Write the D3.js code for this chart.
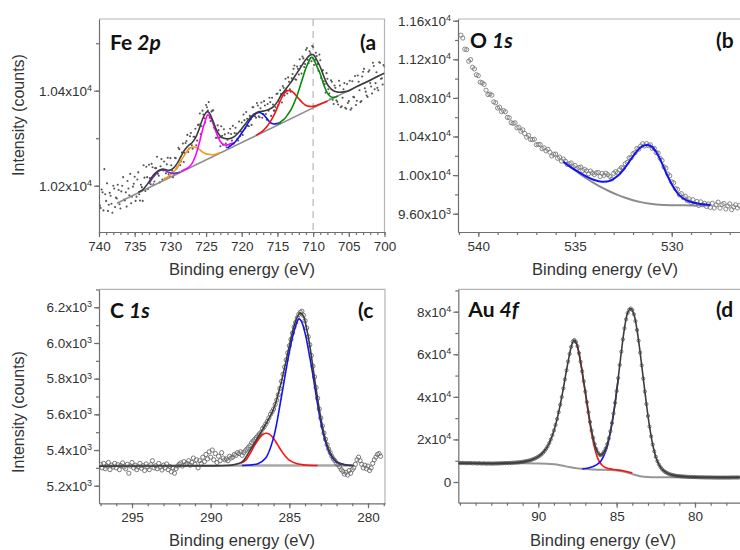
<!DOCTYPE html>
<html>
<head>
<meta charset="utf-8">
<script src="https://cdn.jsdelivr.net/npm/d3@7"></script>
<style>
  body { margin: 0; background: #fff; }
  svg text { font-family: "Liberation Sans", Arial, sans-serif; }
</style>
</head>
<body>
<div id="container"></div>
<script>
// ---- data (binding energy eV, counts) ----

// (a) Fe 2p : two interleaved scans, 0.25 eV steps
var aStart = 740, aStep = 0.25
var aCounts = [10175,10153,10186,10235,10168,10147,10185,10162,10200,10155,
  10173,10191,10152,10200,10171,10186,10210,10180,10163,10198,
  10219,10177,10228,10169,10197,10243,10189,10218,10244,10203,
  10239,10209,10237,10225,10207,10256,10232,10215,10245,10224,
  10258,10232,10222,10258,10240,10277,10251,10289,10269,10294,
  10271,10304,10285,10303,10320,10295,10329,10309,10358,10342,
  10370,10358,10343,10356,10359,10320,10301,10317,10283,10305,
  10319,10289,10297,10286,10309,10326,10311,10310,10295,10304,
  10333,10350,10321,10341,10325,10340,10365,10351,10343,10369,
  10344,10375,10351,10369,10339,10358,10376,10385,10358,10365,
  10394,10377,10393,10410,10390,10401,10428,10403,10426,10446,
  10424,10451,10434,10452,10472,10450,10486,10465,10483,10462,
  10492,10465,10473,10442,10464,10442,10420,10396,10425,10394,
  10422,10381,10411,10380,10371,10411,10367,10403,10364,10414,
  10378,10360,10420,10386,10370,10432,10401,10378,10440,10405,
  10390,10440,10416,10394,10452,10416,10406,10460,10425,10413,10451]
var aStart2 = 739.875
var aCounts2 = [10158,10192,10148,10182,10205,10160,10179,10143,10194,10175,
  10202,10161,10188,10218,10169,10156,10194,10225,10177,10204,
  10168,10213,10182,10202,10168,10217,10240,10193,10216,10246,
  10203,10237,10261,10221,10241,10213,10251,10226,10259,10220,
  10243,10218,10259,10236,10280,10243,10270,10250,10290,10307,
  10278,10311,10278,10303,10285,10328,10352,10325,10350,10333,
  10365,10376,10336,10358,10322,10301,10327,10301,10325,10286,
  10308,10281,10311,10320,10295,10289,10322,10299,10335,10314,
  10307,10338,10355,10326,10347,10328,10365,10346,10374,10346,
  10363,10343,10378,10351,10372,10385,10347,10371,10358,10393,
  10370,10401,10375,10406,10425,10394,10419,10398,10435,10453,
  10423,10446,10466,10436,10468,10456,10490,10458,10479,10494,
  10454,10480,10456,10476,10427,10443,10414,10437,10403,10382,
  10419,10372,10406,10377,10421,10365,10385,10416,10362,10374,
  10421,10363,10387,10431,10379,10419,10376,10430,10446,10398,
  10387,10443,10409,10459,10403,10439,10401,10459,10426,10454]
var aBackground = [[737.5,10163],[700,10437]]
var aPurple = [[733,10204],[732.5,10216],[732,10225],[731.5,10232],[731,10233],[730.5,10230],[730,10227],[729.5,10226],[729,10227],[728.6,10229]]
var aOrange = [[731,10212],[730,10223],[729.5,10230],[729,10240],[728.5,10253],[728,10265],[727.5,10276],[727,10281],[726.5,10281],[726,10277],[725.5,10271],[725,10267],[724.5,10266],[724,10265],[723.5,10267],[723,10270]]
var aMagenta = [[728.5,10230],[728,10234],[727.5,10238],[727,10246],[726.5,10262],[726,10287],[725.5,10317],[725,10342],[724.8,10349],[724.5,10346],[724,10330],[723.5,10309],[723,10293],[722.5,10286],[722,10286],[721.5,10289],[721,10289]]
var aBlue = [[722,10279],[721.5,10285],[721,10291],[720.5,10300],[720,10311],[719.5,10322],[719,10335],[718.5,10345],[718,10352],[717.5,10354],[717,10350],[716.5,10342],[716,10333],[715.5,10330],[715,10331],[714.5,10333]]
var aRed = [[718,10306],[717,10316],[716.5,10324],[716,10335],[715.5,10348],[715,10365],[714.5,10382],[714,10395],[713.6,10400],[713,10399],[712.5,10392],[712,10383],[711.5,10375],[711,10369],[710.5,10367],[710,10367],[709.5,10369],[709,10372],[708,10378]]
var aGreen = [[715,10329],[714.5,10335],[714,10341],[713.5,10351],[713,10363],[712.5,10380],[712,10401],[711.5,10425],[711,10448],[710.5,10465],[710.3,10470],[710,10468],[709.5,10452],[709,10435],[708.5,10412],[708,10395],[707.5,10387],[707,10386],[706.5,10389]]
var aEnvelope = [[734.5,10186],[734,10190],[733.5,10198],[733,10208],[732.5,10220],[732,10228],[731.5,10233],[731,10235],[730.5,10233],[730,10233],[729.5,10238],[729,10248],[728.5,10262],[728,10275],[727.5,10284],[727,10290],[726.5,10300],[726,10318],[725.5,10340],[725,10354],[724.8,10356],[724.5,10352],[724,10335],[723.5,10316],[723,10304],[722.5,10300],[722,10299],[721.5,10300],[721,10304],[720.5,10311],[720,10320],[719.5,10330],[719,10340],[718.5,10348],[718,10353],[717.5,10356],[717,10357],[716.5,10359],[716,10362],[715.5,10367],[715,10377],[714.5,10390],[714,10400],[713.5,10410],[713,10420],[712.5,10432],[712,10443],[711.5,10455],[711,10466],[710.5,10474],[710,10476],[709.5,10465],[709,10450],[708.5,10430],[708,10413],[707.5,10404],[707,10399],[706.5,10397],[706,10397],[705.5,10398],[705,10400],[704,10408],[703,10415],[702,10422],[701,10430],[700,10437]]
var aXTicks = [740,735,730,725,720,715,710,705,700]
var aYTicks = [10200,10400]
var aYLabels = [['1.02x10','4'],['1.04x10','4']]
var aMarker = 710

// (b) O 1s : 0.1 eV steps from 540.9 eV
var bStart = 540.9, bStep = 0.1
var bCounts = [11450,11420,11305,11300,11180,11197,11117,11100,11040,11030,
  10963,10956,10940,10880,10835,10841,10828,10759,10750,10695,
  10704,10658,10669,10656,10598,10594,10543,10536,10542,10490,
  10496,10454,10469,10431,10393,10411,10369,10368,10372,10315,
  10318,10317,10273,10283,10251,10267,10237,10198,10216,10218,
  10174,10186,10145,10166,10145,10110,10118,10126,10086,10100,
  10066,10079,10084,10045,10059,10044,10014,10042,10022,10006,
  10023,10028,9986,10017,9997,10020,10005,9986,9959,10018,
  10036,10023,10055,10078,10074,10118,10132,10179,10180,10222,
  10232,10276,10269,10302,10325,10303,10327,10306,10313,10275,
  10277,10232,10228,10174,10152,10086,10073,10011,9993,9930,
  9920,9859,9852,9796,9808,9767,9782,9737,9754,9713,
  9745,9702,9727,9685,9723,9692,9707,9675,9701,9665,
  9708,9659,9692,9720,9658,9693,9706,9649,9680,9702,
  9642,9670,9692,9660,9685]
var bFit = [[535.6,10138],[535.2,10080],[534.8,10030],[534.4,9985],[534,9950],[533.6,9932],[533.2,9940],[532.8,9990],[532.4,10080],[532,10195],[531.8,10245],[531.6,10288],[531.4,10308],[531.2,10310],[531,10290],[530.8,10240],[530.6,10165],[530.4,10075],[530.2,9985],[530,9905],[529.8,9840],[529.6,9790],[529.2,9735],[528.8,9710],[528.4,9697],[528,9689]]
var bBackground = [[535.6,10135],[535,10050],[534.4,9965],[534,9915],[533.6,9870],[533.2,9830],[532.8,9795],[532.4,9765],[532,9740],[531.6,9720],[531.2,9705],[530.8,9695],[530.4,9690],[530,9688],[529,9686],[528,9686]]
var bXTicks = [540,535,530]
var bYTicks = [9600,10000,10400,10800,11200,11600]
var bYLabels = [['9.60x10','3'],['1.00x10','4'],['1.04x10','4'],['1.08x10','4'],['1.12x10','4'],['1.16x10','4']]

// (c) C 1s : 0.1 eV steps from 297 eV
var cStart = 297, cStep = 0.1
var cCounts = [5320,5300,5325,5295,5310,5330,5290,5315,5305,5325,
  5300,5318,5290,5312,5328,5305,5295,5320,5270,5310,
  5330,5300,5315,5290,5305,5325,5298,5312,5285,5322,
  5305,5290,5318,5340,5300,5312,5295,5325,5305,5288,
  5315,5300,5322,5290,5308,5278,5300,5270,5295,5310,
  5320,5328,5310,5335,5318,5325,5340,5315,5330,5355,
  5320,5345,5300,5340,5325,5360,5335,5375,5350,5390,
  5360,5400,5345,5380,5330,5365,5340,5385,5355,5345,
  5350,5340,5365,5355,5360,5375,5370,5385,5380,5390,
  5370,5385,5395,5405,5415,5425,5440,5450,5460,5470,
  5480,5490,5500,5520,5530,5545,5560,5580,5600,5615,
  5630,5655,5680,5710,5745,5785,5825,5865,5905,5945,
  5985,6020,6055,6090,6115,6140,6160,6172,6178,6155,
  6125,6085,6035,5990,5930,5870,5810,5750,5690,5630,
  5580,5535,5495,5460,5430,5405,5385,5365,5350,5340,
  5325,5318,5305,5290,5280,5265,5275,5260,5285,5270,
  5290,5300,5320,5345,5360,5340,5320,5300,5315,5295,
  5310,5285,5300,5325,5345,5360,5375,5380,5365]
var cBaseline = [[297.1,5312],[280.9,5313]]
var cRed = [[288.1,5325],[287.75,5345],[287.5,5380],[287.25,5420],[287,5455],[286.75,5482],[286.5,5494],[286.25,5488],[286,5465],[285.75,5430],[285.5,5395],[285.25,5365],[285,5343],[284.5,5323],[284,5316],[283.5,5313],[283.2,5313]]
var cBlue = [[288,5313],[287.5,5316],[287,5323],[286.5,5355],[286,5470],[285.5,5700],[285,5950],[284.75,6050],[284.5,6120],[284.4,6135],[284.25,6125],[284,6055],[283.75,5945],[283.5,5820],[283.25,5680],[283,5555],[282.75,5460],[282.5,5395],[282.25,5355],[282,5333],[281.5,5317],[281,5313]]
var cEnvelope = [[297.1,5310],[290,5311],[289,5313],[288.5,5318],[288,5334],[287.5,5398],[287,5470],[286.5,5545],[286,5630],[285.5,5785],[285,5985],[284.75,6080],[284.5,6145],[284.3,6168],[284.1,6150],[283.9,6080],[283.7,5985],[283.5,5865],[283.25,5715],[283,5580],[282.75,5475],[282.5,5405],[282.25,5360],[282,5335],[281.5,5318],[281,5313],[280.9,5313]]
var cXTicks = [295,290,285,280]
var cYTicks = [5200,5400,5600,5800,6000,6200]
var cYLabels = [['5.2x10','3'],['5.4x10','3'],['5.6x10','3'],['5.8x10','3'],['6.0x10','3'],['6.2x10','3']]

// (d) Au 4f : 0.1 eV steps from 95 eV
var dStart = 95, dStep = 0.1
var dCounts = [8950,8850,9000,8900,8800,8950,8850,8900,8750,8850,
  8800,8700,8850,8750,8650,8800,8700,8600,8750,8650,
  8700,8600,8750,8650,8800,8700,8850,8750,8900,8800,
  8950,8850,9000,8950,9100,9050,9200,9150,9350,9300,
  9500,9600,9750,9900,10050,10250,10500,10800,11100,11500,
  11900,12400,13000,13700,14600,15600,16800,18300,20000,22000,
  24200,26800,29600,32800,36300,40000,44000,48200,52500,56600,
  60200,63500,66000,66700,65800,63800,60500,56500,52000,47300,
  42500,37500,32800,28200,24200,20800,17800,15500,13800,12800,
  12600,13200,14300,15800,17800,20500,23800,27700,32200,37200,
  42800,48800,55000,61200,67000,72200,76400,79400,81000,81500,
  80800,78800,75600,71400,66400,60800,54800,48600,42500,36600,
  31000,26000,21500,17600,14400,11800,9800,8200,7000,6000,
  5300,4700,4300,3900,3600,3400,3200,3050,2900,2800,
  2750,2650,2600,2550,2500,2450,2400,2350,2350,2300,
  2300,2250,2250,2200,2200,2200,2150,2150,2150,2100,
  2150,2100,2100,2100,2050,2100,2050,2100,2050,2100,
  2050,2100,2050,2100,2150,2100,2150,2100,2150]
var dBackground = [[95.1,8800],[91,8750],[90,8650],[89.5,8550],[89,8300],[88.5,7700],[88,7000],[87.5,6400],[87,6050],[86.5,5850],[86,5750],[85.5,5650],[85,5450],[84.5,4800],[84,3700],[83.5,2750],[83,2300],[82,2200],[77,2150]]
var dRed = [[87.7,66500],[87.55,64700],[87.4,60200],[87.2,51500],[87,41800],[86.8,31800],[86.6,22800],[86.4,15800],[86.2,11000],[86,8400],[85.8,7100],[85.6,6500],[85.4,6150],[85.2,5900],[85,5700],[84.6,5300],[84.3,4800],[84,4300]]
var dBlue = [[87.2,6250],[87,6350],[86.8,6600],[86.6,7000],[86.4,7600],[86.2,8500],[86,9900],[85.8,12600],[85.6,16700],[85.4,23300],[85.2,31800],[85,42400],[84.9,48500]]
var dEnvelope = [[95.1,8850],[94,8800],[93,8700],[92,8850],[91.5,9050],[91,9450],[90.5,10250],[90,11900],[89.5,15600],[89.25,19100],[89,24200],[88.75,31200],[88.5,40000],[88.25,50400],[88,60200],[87.85,64800],[87.7,66700],[87.55,64900],[87.4,60500],[87.2,52000],[87,42500],[86.8,32800],[86.6,24200],[86.4,17800],[86.2,13800],[86.05,12600],[85.9,13200],[85.7,15800],[85.5,20500],[85.3,27700],[85.1,37200],[84.9,48800],[84.7,61200],[84.5,72200],[84.3,79400],[84.1,81500],[83.9,78800],[83.7,71400],[83.5,60800],[83.3,48600],[83.1,36600],[82.9,26000],[82.7,17600],[82.5,11800],[82.3,8200],[82.1,6000],[81.8,4300],[81.5,3400],[81,2750],[80.5,2450],[80,2300],[79,2200],[77,2200]]
var dXTicks = [90,85,80]
var dYTicks = [0,20000,40000,60000,80000]
var dYLabels = [['0',''],['2x10','4'],['4x10','4'],['6x10','4'],['8x10','4']]

// ---- layout ----
var WIDTH = 740
var HEIGHT = 550
var AXIS = '#6f6f6f'
var FRAME = '#b4b4b4'

var svg = d3.select('div#container').append('svg')
  .attr('width', WIDTH)
  .attr('height', HEIGHT)

// linear scale from two known tick positions, stretched over the frame
function scaleFrom(d0, p0, d1, p1, lo, hi) {
  var s = d3.scaleLinear().domain([d0, d1]).range([p0, p1])
  return d3.scaleLinear().domain([s.invert(lo), s.invert(hi)]).range([lo, hi])
}

function steps(start, step, values) {
  return values.map(function (v, i) { return [+(start - i * step).toFixed(3), v] })
}

function minors(scale, step) {
  var ext = d3.extent(scale.domain())
  return d3.range(Math.ceil(ext[0] / step - 1e-9) * step, ext[1] + 1e-9, step)
}

function panel(p) {
  var g = svg.append('g')
  var clipId = 'clip-' + p.id
  svg.append('clipPath').attr('id', clipId)
    .append('rect')
    .attr('x', p.left).attr('y', p.top)
    .attr('width', p.right - p.left).attr('height', p.bottom - p.top)

  // top / right frame
  g.append('path')
    .attr('d', 'M' + p.left + ',' + p.top + 'H' + p.right + 'V' + p.bottom)
    .attr('fill', 'none').attr('stroke', FRAME).attr('stroke-width', 1.2)

  // x axis
  var gx = g.append('g').attr('transform', 'translate(0,' + p.bottom + ')')
  gx.call(d3.axisBottom(p.x).tickValues(minors(p.x, 1)).tickSize(3).tickSizeOuter(0).tickFormat(''))
  gx.select('.domain').remove()
  var gx2 = g.append('g').attr('transform', 'translate(0,' + p.bottom + ')')
  gx2.call(d3.axisBottom(p.x).tickValues(p.xTicks).tickSize(5).tickSizeOuter(0).tickPadding(4).tickFormat(d3.format('d')))

  // y axis
  var gy = g.append('g').attr('transform', 'translate(' + p.left + ',0)')
  gy.call(d3.axisLeft(p.y).tickValues(minors(p.y, p.yMinor)).tickSize(3).tickSizeOuter(0).tickFormat(''))
  gy.select('.domain').remove()
  var gy2 = g.append('g').attr('transform', 'translate(' + p.left + ',0)')
  gy2.call(d3.axisLeft(p.y).tickValues(p.yTicks).tickSize(5).tickSizeOuter(0).tickPadding(2).tickFormat(''))
  gy2.selectAll('.tick text').each(function (d, i) {
    var t = d3.select(this)
    t.append('tspan').text(p.yLabels[i][0])
    if (p.yLabels[i][1]) {
      t.append('tspan').attr('dy', '-0.55em').style('font-size', '9px').text(p.yLabels[i][1])
    }
  })

  g.selectAll('.domain, .tick line').attr('stroke', AXIS).attr('stroke-width', 1.2)
  g.selectAll('.tick text').attr('fill', '#333').style('font-size', '13.5px')
    .style('font-family', '"Liberation Sans", Arial, sans-serif')

  // axis titles
  g.append('text')
    .attr('x', p.xTitle[0]).attr('y', p.xTitle[1])
    .attr('text-anchor', 'middle').attr('fill', '#333').style('font-size', '16.5px')
    .text('Binding energy (eV)')
  if (p.yTitle) {
    g.append('text')
      .attr('transform', 'translate(' + p.yTitle[0] + ',' + p.yTitle[1] + ') rotate(-90)')
      .attr('text-anchor', 'middle').attr('fill', '#333').style('font-size', '16px')
      .text('Intensity (counts)')
  }

  var plot = g.append('g').attr('clip-path', 'url(#' + clipId + ')')

  // panel name and letter
  var name = g.append('text')
    .attr('x', p.left + p.nameDx).attr('y', p.nameY)
    .style('font-family', 'Lato, "Open Sans", sans-serif').style('font-weight', 700)
    .style('font-size', '21px').attr('fill', '#111')
  name.append('tspan').text(p.name[0] + ' ')
  name.append('tspan').style('font-style', 'italic').text(p.name[1])
  g.append('text')
    .attr('x', p.letterX).attr('y', p.nameY)
    .style('font-family', 'Lato, "Open Sans", sans-serif').style('font-weight', 700)
    .style('font-size', '21px').attr('fill', '#111')
    .text('(' + p.id)

  return plot
}

function curve(plot, p, data, color, width) {
  var line = d3.line()
    .x(function (d) { return p.x(d[0]) })
    .y(function (d) { return p.y(d[1]) })
    .curve(d3.curveCatmullRom.alpha(0.5))
  plot.append('path').datum(data)
    .attr('d', line)
    .attr('fill', 'none')
    .attr('stroke', color)
    .attr('stroke-width', width)
    .attr('stroke-linejoin', 'round')
}

function dots(plot, p, data, r, fill, stroke, sw) {
  plot.selectAll(null).data(data).enter().append('circle')
    .attr('cx', function (d) { return p.x(d[0]) })
    .attr('cy', function (d) { return p.y(d[1]) })
    .attr('r', r)
    .attr('fill', fill)
    .attr('stroke', stroke)
    .attr('stroke-width', sw)
}

// ---- (a) Fe 2p ----
var pa = { id: 'a', left: 99, right: 384.5, top: 19, bottom: 232,
  x: scaleFrom(740, 99, 700, 384.5, 99, 384.5),
  y: scaleFrom(10200, 185.7, 10400, 90.7, 232, 19),
  xTicks: aXTicks, yTicks: aYTicks, yLabels: aYLabels, yMinor: 100,
  xTitle: [242, 275], yTitle: [24, 115],
  name: ['Fe', '2p'], nameDx: 11, nameY: 50, letterX: 360 }
var plotA = panel(pa)
plotA.append('line')
  .attr('x1', pa.x(aMarker)).attr('x2', pa.x(aMarker))
  .attr('y1', pa.top).attr('y2', pa.bottom)
  .attr('stroke', '#c4c4c4').attr('stroke-width', 1.5).attr('stroke-dasharray', '7,5')
dots(plotA, pa, steps(aStart, aStep, aCounts), 1.05, '#555', 'none', 0)
dots(plotA, pa, steps(aStart2, aStep, aCounts2), 1.05, '#555', 'none', 0)
curve(plotA, pa, aBackground, '#8c8c8c', 1.5)
curve(plotA, pa, aOrange, '#f39a1f', 1.6)
curve(plotA, pa, aPurple, '#7a2fd0', 1.6)
curve(plotA, pa, aMagenta, '#ff00ff', 1.6)
curve(plotA, pa, aBlue, '#1010f0', 1.6)
curve(plotA, pa, aRed, '#ff1010', 1.6)
curve(plotA, pa, aGreen, '#0a8a0a', 1.6)
curve(plotA, pa, aEnvelope, '#3c3c3c', 1.6)

// ---- (b) O 1s ----
var pb = { id: 'b', left: 458, right: 742, top: 19, bottom: 232,
  x: scaleFrom(540, 478.3, 530, 671.7, 458, 742),
  y: scaleFrom(9600, 213.7, 11600, 20.7, 232, 19),
  xTicks: bXTicks, yTicks: bYTicks, yLabels: bYLabels, yMinor: 200,
  xTitle: [605, 275], yTitle: null,
  name: ['O', '1s'], nameDx: 12, nameY: 48, letterX: 716 }
var plotB = panel(pb)
curve(plotB, pb, bBackground, '#8c8c8c', 2)
dots(plotB, pb, steps(bStart, bStep, bCounts), 2.1, 'none', '#7a7a7a', 0.9)
curve(plotB, pb, bFit, '#1414f0', 2)

// ---- (c) C 1s ----
var pc = { id: 'c', left: 99, right: 385, top: 289.3, bottom: 503.3,
  x: scaleFrom(295, 132, 280, 368, 99, 385),
  y: scaleFrom(5200, 485.7, 6200, 307.3, 503.3, 289.3),
  xTicks: cXTicks, yTicks: cYTicks, yLabels: cYLabels, yMinor: 100,
  xTitle: [242, 546], yTitle: [24, 412],
  name: ['C', '1s'], nameDx: 11, nameY: 318, letterX: 358 }
var plotC = panel(pc)
curve(plotC, pc, cBaseline, '#a8a8a8', 2.5)
dots(plotC, pc, steps(cStart, cStep, cCounts), 2.1, 'none', '#6a6a6a', 0.9)
curve(plotC, pc, cRed, '#ff1010', 1.6)
curve(plotC, pc, cBlue, '#1414f0', 1.6)
curve(plotC, pc, cEnvelope, '#3c3c3c', 1.6)

// ---- (d) Au 4f ----
var pd = { id: 'd', left: 458.3, right: 742, top: 289.3, bottom: 502.7,
  x: scaleFrom(90, 538.3, 80, 695, 458.3, 742),
  y: scaleFrom(0, 482, 80000, 311.7, 502.7, 289.3),
  xTicks: dXTicks, yTicks: dYTicks, yLabels: dYLabels, yMinor: 10000,
  xTitle: [603, 546], yTitle: null,
  name: ['Au', '4f'], nameDx: 10, nameY: 317, letterX: 716 }
var plotD = panel(pd)
curve(plotD, pd, dBackground, '#969696', 2)
curve(plotD, pd, dRed, '#ff1010', 1.6)
curve(plotD, pd, dBlue, '#1414f0', 1.6)
dots(plotD, pd, steps(dStart, dStep, dCounts), 1.6, 'none', '#555', 0.8)
curve(plotD, pd, dEnvelope, '#3c3c3c', 1.6)
</script>
</body>
</html>
